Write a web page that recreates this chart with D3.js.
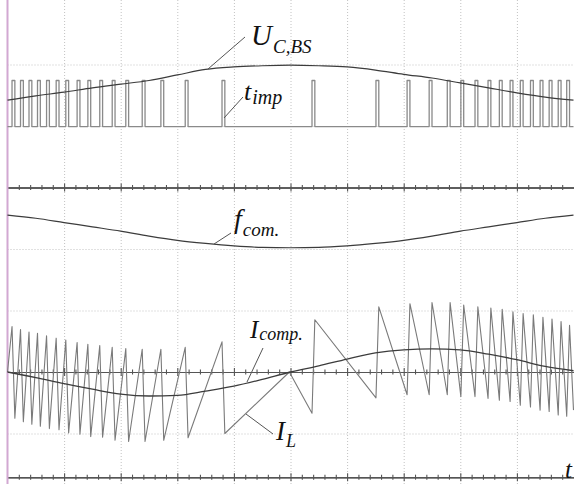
<!DOCTYPE html>
<html>
<head>
<meta charset="utf-8">
<script src="https://cdn.jsdelivr.net/npm/d3@7"></script>
<style>
    html, body { margin: 0; padding: 0; background: #fff; }
    svg { display: block; }
    .lbl { font-family: "Liberation Serif", "DejaVu Serif", serif; font-style: italic; fill: #111; }
</style>
</head>
<body>
<svg id="chart" width="574" height="484"></svg>
<script>
// time in screen divisions, values in vertical divisions from each channel's zero line
var sampleT = [0, 0.5, 1, 1.5, 2, 2.5, 3, 3.5, 4, 4.5, 5, 5.5, 6, 6.5, 7, 7.5, 8, 8.5, 9, 9.5, 10];
var uCBS = [1.42, 1.49, 1.55, 1.62, 1.68, 1.74, 1.83, 1.92, 1.96, 1.98, 1.99, 1.98, 1.96, 1.91, 1.84, 1.78, 1.70, 1.62, 1.54, 1.47, 1.42];
var fCom = [0.55, 0.50, 0.43, 0.36, 0.29, 0.21, 0.14, 0.09, 0.05, 0.025, 0.02, 0.025, 0.05, 0.09, 0.14, 0.21, 0.29, 0.36, 0.43, 0.50, 0.55];
var iComp = [0.0, -0.09, -0.19, -0.28, -0.36, -0.39, -0.38, -0.31, -0.23, -0.12, 0.0, 0.10, 0.21, 0.31, 0.36, 0.375, 0.36, 0.29, 0.20, 0.09, 0.02];

// switching pulses (start times) and the inductor current at each edge
var pulseT = [0.08, 0.23, 0.38, 0.53, 0.69, 0.86, 1.03, 1.23, 1.42, 1.63, 1.85, 2.09, 2.38, 2.71, 3.14, 3.79,
              5.38, 6.51, 7.06, 7.45, 7.77, 8.01, 8.26, 8.49, 8.69, 8.88, 9.06, 9.24, 9.41, 9.57, 9.73, 9.88];
var pulseWidth = 0.05;
var pulseLow = 0.99, pulseHigh = 1.74;
var iLPeak = [0.74, 0.69, 0.65, 0.63, 0.59, 0.55, 0.52, 0.48, 0.45, 0.43, 0.40, 0.38, 0.37, 0.37, 0.40, 0.49,
              0.85, 1.06, 1.11, 1.13, 1.13, 1.09, 1.06, 1.04, 1.02, 0.98, 0.95, 0.93, 0.89, 0.86, 0.82, 0.76];
var iLTrough = [-0.75, -0.81, -0.85, -0.88, -0.92, -0.94, -0.99, -1.01, -1.05, -1.06, -1.11, -1.13, -1.13, -1.11, -1.07, -1.00,
                -0.67, -0.42, -0.37, -0.37, -0.37, -0.40, -0.40, -0.43, -0.46, -0.48, -0.54, -0.57, -0.62, -0.64, -0.70, -0.72];
var iLStart = 0.0, iLCenterT = 4.98, iLCenter = 0.0, iLEnd = -0.62;

var W = 574, H = 484;
var svg = d3.select("#chart");

var x = d3.scaleLinear().domain([0, 10]).range([7.5, 573.5]);
var row = d3.scaleLinear().domain([0, 7]).range([3, 433.5]);

function channelY(zeroRow) {
    return d3.scaleLinear().domain([0, 1]).range([row(zeroRow), row(zeroRow - 1)]);
}
var y1 = channelY(3), y2 = channelY(4), y3 = channelY(6);

// dotted grid
var grid = svg.append("g").attr("class", "grid");
grid.append("g")
    .call(d3.axisBottom(x).tickValues([1, 2, 3, 4, 5, 6, 7, 8, 9]).tickSize(H).tickFormat(""));
grid.append("g").attr("transform", "translate(" + x(0) + ",0)")
    .call(d3.axisRight(row).tickValues([1, 2, 4, 5, 7]).tickSize(x(10) - x(0)).tickFormat(""));
grid.selectAll(".domain").remove();
grid.selectAll("line").attr("stroke", "#c2c2c2").attr("stroke-dasharray", "1,2");

// time axes with ticks across the line
var minorT = d3.range(0.2, 10, 0.2).filter(function (t) { return Math.abs(t - Math.round(t)) > 0.01; });
var majorT = [1, 2, 3, 4, 5, 6, 7, 8, 9];
function timeAxis(yPos) {
    var g = svg.append("g").attr("transform", "translate(0," + yPos + ")");
    g.append("g").call(d3.axisBottom(x).tickValues(minorT).tickSize(2.5).tickSizeOuter(0).tickFormat(""));
    g.append("g").call(d3.axisTop(x).tickValues(minorT).tickSize(2.5).tickSizeOuter(0).tickFormat(""));
    g.append("g").call(d3.axisBottom(x).tickValues(majorT).tickSize(4).tickSizeOuter(0).tickFormat(""));
    g.append("g").call(d3.axisTop(x).tickValues(majorT).tickSize(4).tickSizeOuter(0).tickFormat(""));
    g.selectAll("path, line").attr("stroke", "#555").attr("stroke-width", 1.1);
}
timeAxis(row(3));
timeAxis(row(6));
timeAxis(row(7.71));

// left border
svg.append("rect").attr("x", 6.5).attr("y", 0).attr("width", 2).attr("height", H).attr("fill", "#d2a8d2");

function sampled(vals) {
    return vals.map(function (v, i) { return [sampleT[i], v]; });
}
function drawLine(pts, yScale, color, width, curve) {
    svg.append("path")
        .datum(pts)
        .attr("fill", "none")
        .attr("stroke", color)
        .attr("stroke-width", width)
        .attr("stroke-linejoin", "round")
        .attr("d", d3.line().curve(curve || d3.curveLinear)
            .x(function (d) { return x(d[0]); }).y(function (d) { return yScale(d[1]); }));
}

// pulse train
var pulsePts = [[0, pulseLow]];
pulseT.forEach(function (s) {
    pulsePts.push([s, pulseLow], [s, pulseHigh], [s + pulseWidth, pulseHigh], [s + pulseWidth, pulseLow]);
});
pulsePts.push([10, pulseLow]);
drawLine(pulsePts, y1, "#8a8a8a", 1.3);
drawLine(sampled(uCBS), y1, "#3c3c3c", 1.2, d3.curveMonotoneX);

drawLine(sampled(fCom), y2, "#3c3c3c", 1.2, d3.curveMonotoneX);

// inductor current: falls during a pulse before the centre, rises after it
var iLPts = [[0, iLStart]];
pulseT.forEach(function (s, i) {
    if (s > iLCenterT && iLPts[iLPts.length - 1][0] < iLCenterT) {
        iLPts.push([iLCenterT, iLCenter]);
    }
    if (s < iLCenterT) {
        iLPts.push([s, iLPeak[i]], [s + pulseWidth, iLTrough[i]]);
    } else {
        iLPts.push([s, iLTrough[i]], [s + pulseWidth, iLPeak[i]]);
    }
});
iLPts.push([10, iLEnd]);
drawLine(iLPts, y3, "#7a7a7a", 1.1);
drawLine(sampled(iComp), y3, "#3c3c3c", 1.3, d3.curveMonotoneX);

// labels with leader lines
function leader(x1, yA, x2, yB) {
    svg.append("line").attr("x1", x1).attr("y1", yA).attr("x2", x2).attr("y2", yB)
        .attr("stroke", "#555").attr("stroke-width", 1);
}
function label(px, py, main, sub, mainSize, subSize, subDy) {
    var t = svg.append("text").attr("class", "lbl").attr("x", px).attr("y", py);
    t.append("tspan").attr("font-size", mainSize).text(main);
    if (sub) {
        t.append("tspan").attr("font-size", subSize).attr("dx", 1).attr("dy", subDy).text(sub);
    }
}
leader(245, 37, 208, 69);
label(251, 45, "U", "C,BS", 29, 19, 8);
leader(243, 97, 224, 118);
label(244, 100, "t", "imp", 26, 20, 4);
leader(231, 233, 214, 244);
label(234, 228, "f", "com.", 28, 19, 8);
leader(263, 348, 247, 382);
label(250, 338, "I", "comp.", 25, 18, 2);
leader(273, 434, 246, 414);
label(276, 440, "I", "L", 27, 18, 7);
label(565, 478, "t", null, 25);
</script>
</body>
</html>
